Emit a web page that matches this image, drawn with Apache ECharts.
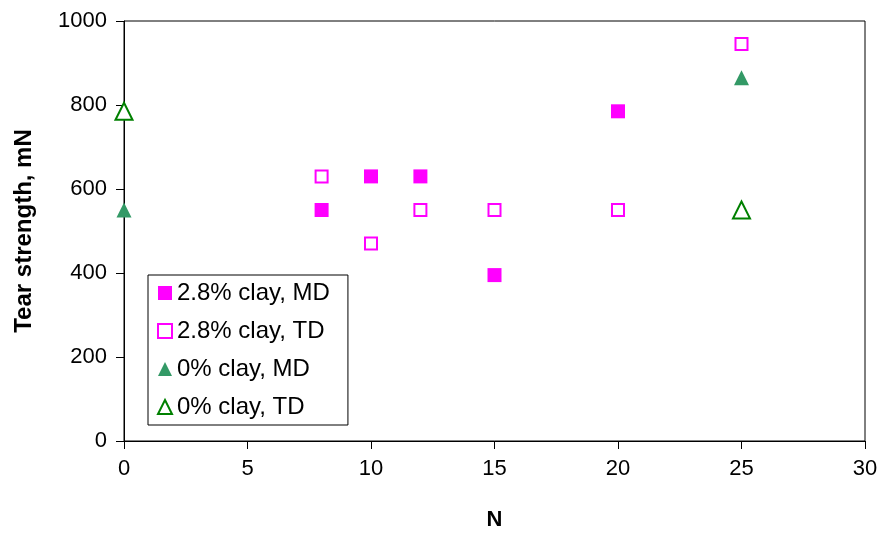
<!DOCTYPE html>
<html>
<head>
<meta charset="utf-8">
<script src="https://cdn.jsdelivr.net/npm/echarts@6/dist/echarts.min.js"></script>
<style>
  html, body { margin: 0; padding: 0; background: #fff; }
  #chart { width: 882px; height: 538px; }
</style>
</head>
<body>
<div id="chart"></div>
<script>
// Tear strength (mN) vs N for clay / no-clay films, machine and transverse directions
const clay28MD_N = [8, 10, 12, 15, 20];
const clay28MD_val = [550, 630, 630, 395, 785];

const clay28TD_N = [8, 10, 12, 15, 20, 25];
const clay28TD_val = [630, 470, 550, 550, 550, 945];

const clay0MD_N = [0, 25];
const clay0MD_val = [550, 865];

const clay0TD_N = [0, 25];
const clay0TD_val = [785, 550];

const seriesNames = ['2.8% clay, MD', '2.8% clay, TD', '0% clay, MD', '0% clay, TD'];

function pairs(xs, ys) { return xs.map((x, i) => [x, ys[i]]); }

const FONT = '"Liberation Sans", Arial, sans-serif';
const chart = echarts.init(document.getElementById('chart'), null, { renderer: 'canvas' });

chart.setOption({
  animation: false,
  backgroundColor: '#fff',
  grid: {
    left: 124, right: 17, top: 21, bottom: 97,
    show: true, borderColor: '#000', borderWidth: 1, backgroundColor: 'transparent'
  },
  xAxis: {
    type: 'value', min: 0, max: 30, interval: 5,
    name: 'N', nameLocation: 'middle', nameGap: 68,
    nameTextStyle: { fontFamily: FONT, fontSize: 22, fontWeight: 'bold', color: '#000' },
    axisLine: { show: true, onZero: false, lineStyle: { color: '#000', width: 1 } },
    axisTick: { show: true, inside: false, length: 8, lineStyle: { color: '#000' } },
    axisLabel: { fontFamily: FONT, fontSize: 22, color: '#000', margin: 17 },
    splitLine: { show: false }
  },
  yAxis: {
    type: 'value', min: 0, max: 1000, interval: 200,
    name: 'Tear strength, mN', nameLocation: 'middle', nameGap: 88,
    nameTextStyle: { fontFamily: FONT, fontSize: 24, fontWeight: 'bold', color: '#000' },
    axisLine: { show: true, onZero: false, lineStyle: { color: '#000', width: 1 } },
    axisTick: { show: true, inside: false, length: 8, lineStyle: { color: '#000' } },
    axisLabel: {
      fontFamily: FONT, fontSize: 22, color: '#000', margin: 17,
      formatter: v => String(v)
    },
    splitLine: { show: false }
  },
  legend: {
    orient: 'vertical',
    left: 148, top: 275,
    padding: [6, 18, 6, 9],
    itemGap: 14,
    itemWidth: 14, itemHeight: 14,
    backgroundColor: '#fff',
    borderColor: '#000', borderWidth: 1,
    textStyle: { fontFamily: FONT, fontSize: 24, color: '#000' },
    data: seriesNames
  },
  series: [
    {
      name: seriesNames[0], type: 'scatter', symbol: 'rect', symbolSize: 14,
      itemStyle: { color: '#ff00ff', opacity: 1 },
      emphasis: { disabled: true },
      data: pairs(clay28MD_N, clay28MD_val)
    },
    {
      name: seriesNames[1], type: 'scatter', symbol: 'rect', symbolSize: 12,
      itemStyle: { color: '#fff', borderColor: '#ff00ff', borderWidth: 2, opacity: 1 },
      emphasis: { disabled: true },
      data: pairs(clay28TD_N, clay28TD_val)
    },
    {
      name: seriesNames[2], type: 'scatter', symbol: 'triangle', symbolSize: 15,
      itemStyle: { color: '#339966', opacity: 1 },
      emphasis: { disabled: true },
      data: pairs(clay0MD_N, clay0MD_val)
    },
    {
      name: seriesNames[3], type: 'scatter', symbol: 'triangle', symbolSize: 17,
      itemStyle: { color: '#fff', borderColor: '#008000', borderWidth: 2, opacity: 1 },
      emphasis: { disabled: true },
      data: pairs(clay0TD_N, clay0TD_val)
    }
  ]
});
</script>
</body>
</html>
